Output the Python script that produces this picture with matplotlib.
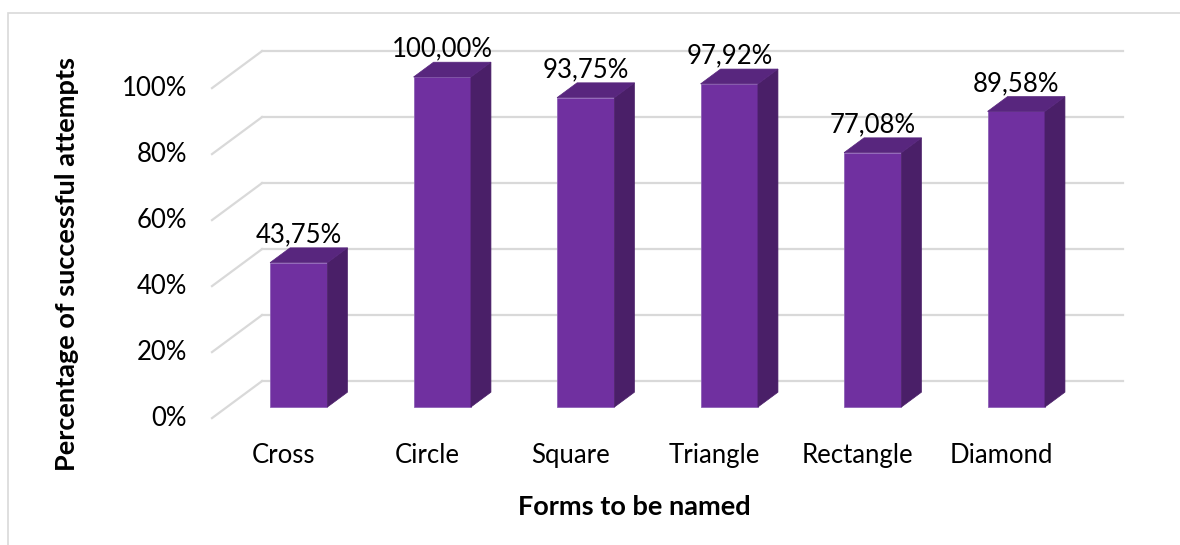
import numpy as np
import matplotlib

matplotlib.use("Agg")
import matplotlib.pyplot as plt
from matplotlib.patches import Polygon, Rectangle
from matplotlib.transforms import ScaledTranslation

plt.rcParams["font.family"] = ["Lato", "DejaVu Sans"]

# success rate per shape (%)
forms = ["Cross", "Circle", "Square", "Triangle", "Rectangle", "Diamond"]
success = [43.75, 100.00, 93.75, 97.92, 77.08, 89.58]
yticks = [0, 20, 40, 60, 80, 100]

FRONT = "#7030A0"
SIDE = "#4A1F68"
TOP = "#58267E"
EDGE = "#8E62B6"
GRID = "#D9D9D9"

# full floor depth in pixels (dx, dy) and depth fractions of the bar plane
DEPTH = np.array([50.0, 37.0])
BAR_FRONT = 0.3
BAR_BACK = 0.7

fig = plt.figure(figsize=(11.8, 5.45), dpi=100)
W, H = 1180, 545
# axes spans the plane of the bar fronts
ax = fig.add_axes([227 / W, (H - 407) / H, 861 / W, 330 / H])
ax.set_xlim(-0.5, 5.5)
ax.set_ylim(0, 100)
ax.axis("off")


def shift(frac, extra=(0, 0)):
    # pixel offset from the bar-front plane to a given depth fraction
    d = DEPTH * (frac - BAR_FRONT) + np.array(extra)
    return ScaledTranslation(d[0] / 100, d[1] / 100, fig.dpi_scale_trans)


def data_offset(frac):
    # same offset expressed in data units
    p0 = ax.transData.transform((0, 0))
    p1 = p0 + DEPTH * frac
    return ax.transData.inverted().transform(p1)


x0, x1 = ax.get_xlim()
back = ax.transData + shift(1.0)
front = ax.transData + shift(0.0)

# back wall gridlines and floor diagonals
for v in yticks:
    ax.plot([x0, x1], [v, v], color=GRID, lw=1.6, transform=back,
            clip_on=False, zorder=1)
    p_front = front.transform((x0, v))
    p_back = back.transform((x0, v))
    ax.plot([p_front[0], p_back[0]], [p_front[1], p_back[1]], color=GRID,
            lw=1.6, transform=None, clip_on=False, zorder=1)
    ax.text(x0, v, f"{v}%", transform=ax.transData + shift(0.0, (-25, 0)),
            ha="right", va="center", fontsize=18.5, color="#000000")

# bars with a side and a top face
x = np.arange(len(forms))
w = 0.4
dx, dy = data_offset(BAR_BACK - BAR_FRONT)
ax.bar(x, success, width=w, color=FRONT, edgecolor=EDGE, linewidth=0.6,
       zorder=3, clip_on=False)
for xi, v in zip(x, success):
    r = xi + w / 2
    l = xi - w / 2
    side = Polygon([(r, 0), (r, v), (r + dx, v + dy), (r + dx, dy)],
                   closed=True, facecolor=SIDE, edgecolor=SIDE, lw=0.5,
                   zorder=3, clip_on=False)
    top = Polygon([(l, v), (r, v), (r + dx, v + dy), (l + dx, v + dy)],
                  closed=True, facecolor=TOP, edgecolor=TOP, lw=0.5,
                  zorder=3, clip_on=False)
    ax.add_patch(side)
    ax.add_patch(top)
    ax.annotate(f"{v:.2f}%".replace(".", ","), (xi, v), xytext=(0, 20),
                textcoords="offset points", ha="center", va="center",
                fontsize=18.5, color="#000000", zorder=4, annotation_clip=False)

# category labels along the front edge
for xi, name in zip(x, forms):
    ax.text(xi, 0, name, transform=ax.transData + shift(0.0, (0, -37)),
            ha="center", va="center", fontsize=18.5, color="#000000")

fig.text(634 / W, 1 - 507 / H, "Forms to be named", ha="center", va="center",
         fontsize=19.5, fontweight="bold")
fig.text(67 / W, 1 - 264 / H, "Percentage of successful attempts",
         ha="center", va="center", rotation=90, fontsize=19.5, fontweight="bold")

# chart frame
fig.patches.append(Rectangle((8 / W, -0.05), 1.2, 1 - 13 / H + 0.05,
                             transform=fig.transFigure, fill=False,
                             edgecolor="#D9D9D9", lw=1.2))

fig.savefig("out.png", dpi=100)
